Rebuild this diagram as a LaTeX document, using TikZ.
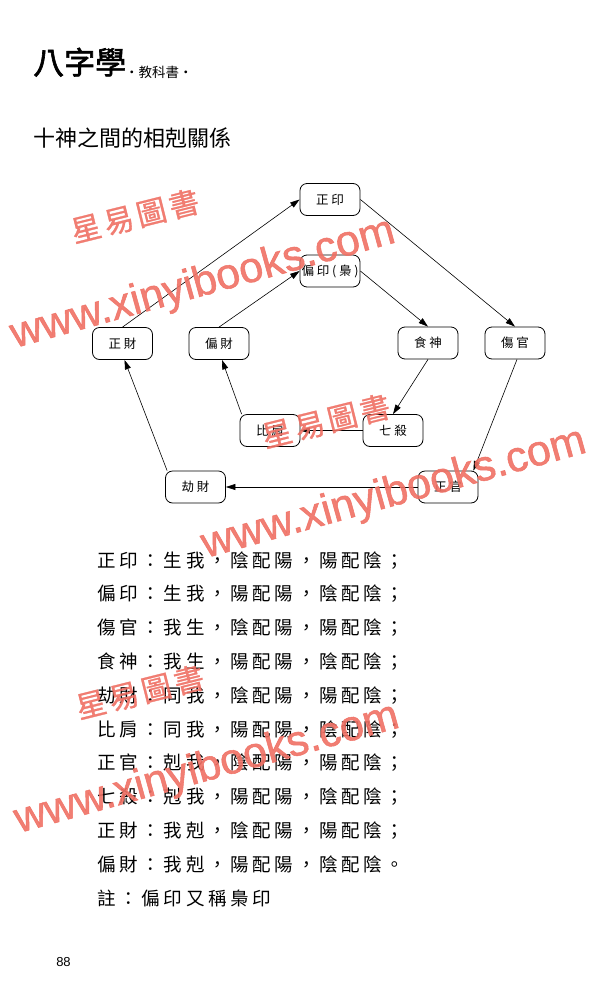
\documentclass[tikz,border=0pt]{standalone}
\usepackage{fontspec}
\setmainfont{Liberation Sans}
\newfontfamily\cjk{Noto Sans CJK TC}
\newfontfamily\cjkls[LetterSpace=20]{Noto Sans CJK TC}
\newfontfamily\cjknode[LetterSpace=22]{Noto Sans CJK TC}
\newfontfamily\cjkhead[FakeBold=2]{Noto Sans CJK TC}
\newfontfamily\cjkwm[LetterSpace=12,FakeBold=1]{Noto Sans CJK TC}
\newfontfamily\urlwm[FakeBold=1.2]{Liberation Sans}
\usetikzlibrary{arrows.meta}
\definecolor{wm}{RGB}{240,112,100}
\begin{document}
\begin{tikzpicture}[x=1pt,y=-1pt,
  box/.style={draw, line width=0.8pt, rounded corners=7pt, minimum width=60pt,
    minimum height=32pt, inner sep=0pt, font=\cjknode\fontsize{12.5}{14}\selectfont},
  link/.style={draw, line width=0.6pt, -{Triangle[length=9.5pt,width=6pt]}},
  txtline/.style={anchor=base west, inner sep=0pt, font=\cjkls\fontsize{18.5}{20}\selectfont},
  wmcn/.style={text=wm, opacity=0.9, rotate=14, inner sep=0pt, font=\cjkwm\fontsize{30}{32}\selectfont},
  wmurl/.style={text=wm, opacity=0.9, rotate=15.5, anchor=base, inner sep=0pt, font=\urlwm\fontsize{43}{45}\selectfont}]
\useasboundingbox (0,0) rectangle (600,1007);
\fill[white] (0,0) rectangle (600,1007);

% header
\node[anchor=base west, inner sep=0pt, font=\cjkhead\fontsize{31}{33}\selectfont] (hd) at (33,74) {八字學};
\node[anchor=base west, inner sep=0pt, font=\cjk\fontsize{13.5}{15}\selectfont] (hd2) at (125,77) {·教科書·};

% title
\node[anchor=base west, inner sep=0pt, font=\cjk\fontsize{22}{24}\selectfont] (title) at (33,146) {十神之間的相剋關係};

% diagram nodes
\node[box] (zy) at (330,199.5) {正印};
\node[box] (py) at (330,271) {偏印(梟)};
\node[box] (zc) at (122.5,343.5) {正財};
\node[box] (pc) at (219,343.5) {偏財};
\node[box] (ss) at (428,343) {食神};
\node[box] (sg) at (515,343) {傷官};
\node[box] (bj) at (270,430.5) {比肩};
\node[box] (qs) at (393,430.5) {七殺};
\node[box] (jc) at (195.5,487) {劫財};
\node[box] (zg) at (448,487) {正官};

% connectors
\draw[link] (zc.north) -- (zy.west);
\draw[link] (zy.east) -- (sg.north);
\draw[link] (pc.north) -- (py.west);
\draw[link] (py.east) -- (ss.north);
\draw[link] (ss.south) -- (qs.north);
\draw[link] (qs.west) -- (bj.east);
\draw[link] ([xshift=2pt]bj.north west) -- ([xshift=3pt]pc.south);
\draw[link] ([xshift=2pt]sg.south) -- ([xshift=-5pt]zg.north east);
\draw[link] (zg.west) -- (jc.east);
\draw[link] ([xshift=2pt]jc.north west) -- ([xshift=2pt]zc.south);

% text lines
\node[txtline] (l1) at (97,567) {正印：生我，陰配陽，陽配陰；};
\node[txtline] (l2) at (97,600.8) {偏印：生我，陽配陽，陰配陰；};
\node[txtline] (l3) at (97,634.6) {傷官：我生，陰配陽，陽配陰；};
\node[txtline] (l4) at (97,668.4) {食神：我生，陽配陽，陰配陰；};
\node[txtline] (l5) at (97,702.2) {劫財：同我，陰配陽，陽配陰；};
\node[txtline] (l6) at (97,736) {比肩：同我，陽配陽，陰配陰；};
\node[txtline] (l7) at (97,769.8) {正官：剋我，陰配陽，陽配陰；};
\node[txtline] (l8) at (97,803.6) {七殺：剋我，陽配陽，陰配陰；};
\node[txtline] (l9) at (97,837.4) {正財：我剋，陰配陽，陽配陰；};
\node[txtline] (l10) at (97,871.2) {偏財：我剋，陽配陽，陰配陰。};
\node[txtline] (l11) at (97,905) {註：偏印又稱梟印};

% page number
\node[inner sep=0pt, font=\fontsize{13}{15}\selectfont] (pg) at (63.5,962.5) {88};

% watermarks
\node[wmcn] (w1) at (135,216) {星易圖書};
\node[wmurl] (u1) at (206,295) {www.xinyibooks.com};
\node[wmcn] (w2) at (326,421) {星易圖書};
\node[wmurl] (u2) at (397,505) {www.xinyibooks.com};
\node[wmcn] (w3) at (140,692) {星易圖書};
\node[wmurl] (u3) at (210,780) {www.xinyibooks.com};
\end{tikzpicture}
\end{document}
